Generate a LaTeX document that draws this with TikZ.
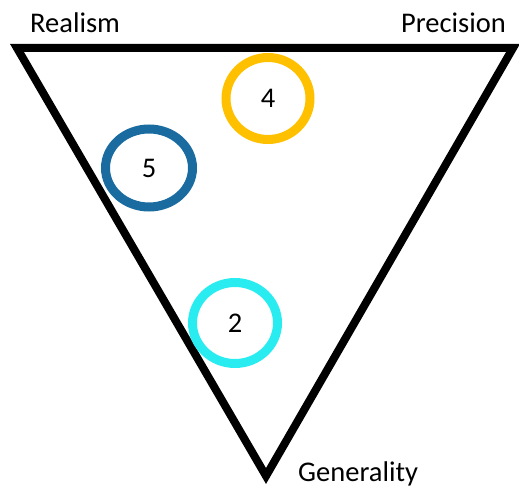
\documentclass[tikz,border=0pt]{standalone}
\usepackage{fontspec}
\usetikzlibrary{shapes.geometric}
\setmainfont{Carlito}
\definecolor{gold}{RGB}{255,192,0}
\definecolor{darkblue}{RGB}{26,108,160}
\definecolor{aqua}{RGB}{40,236,240}
\begin{document}
\begin{tikzpicture}[x=1pt,y=-1pt,
  lbl/.style={inner sep=0pt,font=\fontsize{28.5}{34}\selectfont},
  ring/.style={draw,line width=9pt,ellipse,inner sep=0pt,font=\fontsize{28.5}{34}\selectfont}]
\useasboundingbox (0,0) rectangle (519,489);
\coordinate (tl) at (17,48);
\coordinate (tr) at (513,48);
\coordinate (bt) at (266,476);
\draw[line width=8pt,line join=miter] (tl) -- (tr) -- (bt) -- cycle;
\node[lbl,anchor=base west] (realism) at (30,33) {Realism};
\node[lbl,anchor=base east] (precision) at (506,33) {Precision};
\node[lbl,anchor=base west] (generality) at (298,481) {Generality};
\node[ring,draw=gold,minimum width=84pt,minimum height=82pt] (c4) at (268,98.5) {4};
\node[ring,draw=darkblue,minimum width=87pt,minimum height=78pt] (c5) at (149,168) {5};
\node[ring,draw=aqua,minimum width=85pt,minimum height=81pt] (c2) at (235,323) {2};
\end{tikzpicture}
\end{document}
